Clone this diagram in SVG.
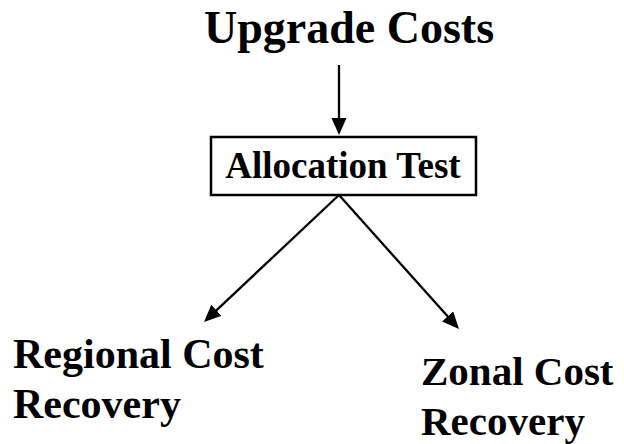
<svg xmlns="http://www.w3.org/2000/svg" width="624" height="444" viewBox="0 0 624 444">
<defs>
<style>
.t{font-family:"Liberation Serif","Times New Roman",serif;font-weight:bold;fill:#000}
.c{stroke:#000;stroke-width:2.3;fill:none}
</style>
<marker id="ah" markerUnits="userSpaceOnUse" markerWidth="18" markerHeight="16" refX="7" refY="7.5" orient="auto">
<path d="M0,0 L17,7.5 L0,15 z" fill="#000"/>
</marker>
</defs>
<rect width="624" height="444" fill="#fff"/>
<g id="upgrade">
<text class="t" x="349" y="43" font-size="46" text-anchor="middle">Upgrade Costs</text>
</g>
<g id="allocation">
<rect x="211" y="137" width="265" height="58" fill="#fff" stroke="#000" stroke-width="2.5"/>
<text class="t" x="343" y="178" font-size="37" text-anchor="middle">Allocation Test</text>
</g>
<g id="regional">
<text class="t" x="13" y="368" font-size="42">Regional Cost</text>
<text class="t" x="13" y="418" font-size="42">Recovery</text>
</g>
<g id="zonal">
<text class="t" x="421" y="385" font-size="41">Zonal Cost</text>
<text class="t" x="421" y="435" font-size="41">Recovery</text>
</g>
<g id="connectors">
<line class="c" x1="339" y1="65" x2="339" y2="125" marker-end="url(#ah)"/>
<line class="c" x1="339" y1="195" x2="211.3" y2="315.1" marker-end="url(#ah)"/>
<line class="c" x1="339" y1="195" x2="452.3" y2="321.6" marker-end="url(#ah)"/>
</g>
</svg>
